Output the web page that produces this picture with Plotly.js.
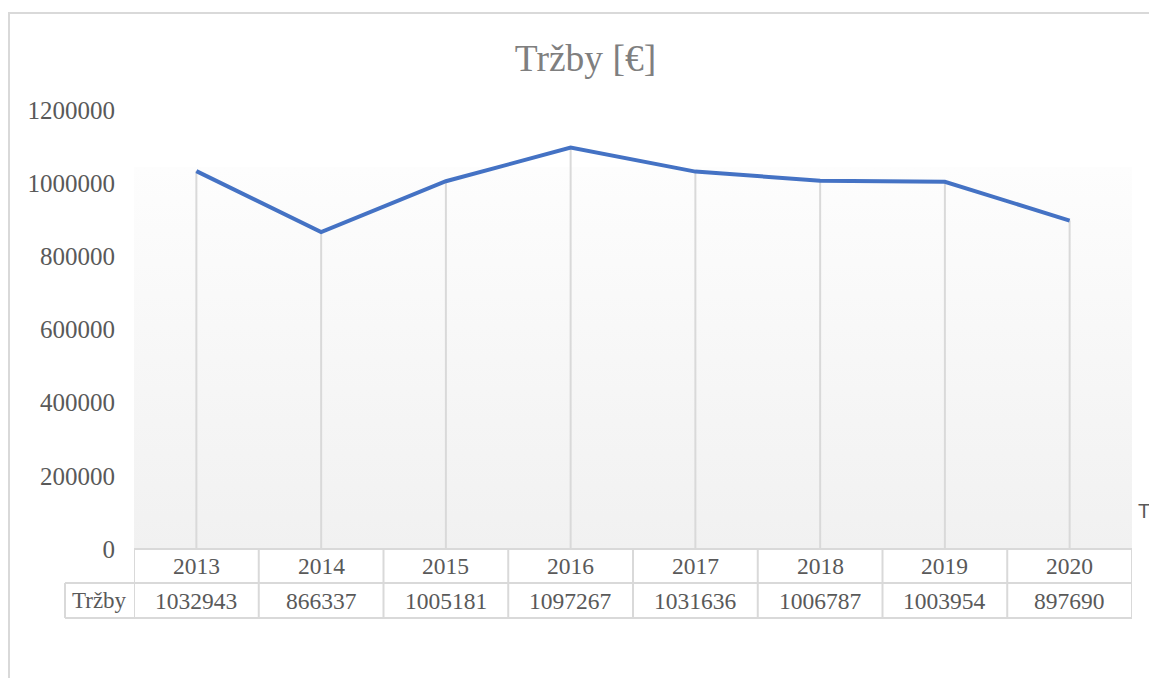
<!DOCTYPE html>
<html>
<head>
<meta charset="utf-8">
<script src="https://cdn.plot.ly/plotly-3.0.1.min.js"></script>
<style>html,body{margin:0;padding:0;background:#fff;}#chart{width:1149px;height:678px;}</style>
</head>
<body>
<div id="chart"></div>
<script>
const years = ["2013","2014","2015","2016","2017","2018","2019","2020"];
const trzby = [1032943, 866337, 1005181, 1097267, 1031636, 1006787, 1003954, 897690];
const seriesName = "Tržby";
const chartTitle = "Tržby [€]";

// layout geometry (pixels)
const W = 1149, H = 678;
const L = 134, R = 1132, T = 110, B = 549;
const pw = R - L, ph = B - T;
const px = v => (v - L) / pw;          // pixel x -> paper
const py = v => (B - v) / ph;          // pixel y -> paper

const serif = "Liberation Serif, Times New Roman, serif";
const textCol = "#595959";
const gridCol = "#d9d9d9";

const gradSvg = '<svg xmlns="http://www.w3.org/2000/svg" width="100" height="100" preserveAspectRatio="none"><defs><linearGradient id="g" x1="0" y1="0" x2="0" y2="1"><stop offset="0" stop-color="#fdfdfd"/><stop offset="1" stop-color="#f1f1f1"/></linearGradient></defs><rect width="100" height="100" fill="url(#g)"/></svg>';
const gradUri = "data:image/svg+xml;base64," + btoa(gradSvg);

const traces = [{
  type: "scatter",
  mode: "lines",
  x: years,
  y: trzby,
  name: seriesName,
  line: {color: "#4472C4", width: 4},
  error_y: {type: "data", symmetric: false, array: trzby.map(() => 0), arrayminus: trzby, color: gridCol, thickness: 2, width: 0},
  hoverinfo: "x+y",
  showlegend: false
}];

const shapes = [];
const annotations = [];
// outer chart border
shapes.push({type: "rect", xref: "paper", yref: "paper", x0: px(9), x1: px(1200), y0: py(13), y1: py(720), line: {color: gridCol, width: 2}, fillcolor: "rgba(0,0,0,0)", layer: "below"});

// data table lines
const rowTop = 549, rowMid = 583, rowBot = 618, hdrLeft = 65;
shapes.push({type: "line", xref: "x", yref: "paper", x0: -0.5, x1: years.length - 0.5, y0: py(rowTop), y1: py(rowTop), line: {color: gridCol, width: 2}});
shapes.push({type: "line", xref: "paper", yref: "paper", x0: px(hdrLeft), x1: 1, y0: py(rowMid), y1: py(rowMid), line: {color: gridCol, width: 2}});
shapes.push({type: "line", xref: "paper", yref: "paper", x0: px(hdrLeft), x1: 1, y0: py(rowBot), y1: py(rowBot), line: {color: gridCol, width: 2}});
shapes.push({type: "line", xref: "paper", yref: "paper", x0: px(hdrLeft), x1: px(hdrLeft), y0: py(rowMid), y1: py(rowBot), line: {color: gridCol, width: 2}});
for (let i = 0; i <= years.length; i++) {
  shapes.push({type: "line", xref: "x", yref: "paper", x0: i - 0.5, x1: i - 0.5, y0: py(rowTop), y1: py(rowBot), line: {color: gridCol, width: 2}});
}
years.forEach((yr, i) => {
  annotations.push({xref: "x", yref: "paper", x: i, y: py((rowTop + rowMid) / 2), text: yr, showarrow: false, xanchor: "center", yanchor: "middle", font: {family: serif, size: 23.5, color: textCol}});
  annotations.push({xref: "x", yref: "paper", x: i, y: py((rowMid + rowBot) / 2), text: String(trzby[i]), showarrow: false, xanchor: "center", yanchor: "middle", font: {family: serif, size: 23.5, color: textCol}});
});
annotations.push({xref: "paper", yref: "paper", x: px((hdrLeft + L) / 2), y: py((rowMid + rowBot) / 2), text: seriesName, showarrow: false, xanchor: "center", yanchor: "middle", font: {family: serif, size: 23, color: textCol}});
// legend, cut off by the right edge as in the reference
annotations.push({xref: "paper", yref: "paper", x: px(1136), y: py(511), text: seriesName, showarrow: false, xanchor: "left", yanchor: "middle", font: {family: "Liberation Sans, Arial, sans-serif", size: 20, color: textCol}});

const layout = {
  width: W, height: H,
  margin: {l: L, r: W - R, t: T, b: H - B, pad: 0},
  paper_bgcolor: "#ffffff",
  plot_bgcolor: "rgba(0,0,0,0)",
  showlegend: false,
  title: {text: chartTitle, x: 585.5 / W, xref: "container", xanchor: "center", y: 1 - 58 / H, yref: "container", yanchor: "middle", font: {family: serif, size: 37.5, color: "#7f7f7f"}},
  xaxis: {type: "category", range: [-0.5, years.length - 0.5], showgrid: false, zeroline: false, showticklabels: false, ticks: "", showline: false, fixedrange: true},
  yaxis: {range: [0, 1200000], dtick: 200000, tick0: 0, tickformat: "d", showgrid: false, zeroline: false, showline: false, ticks: "", ticklabelstandoff: 18, tickfont: {family: serif, size: 25, color: textCol}, fixedrange: true},
  images: [{source: gradUri, xref: "paper", yref: "paper", x: 0, y: py(167), sizex: 1, sizey: py(167), sizing: "stretch", xanchor: "left", yanchor: "top", layer: "below"}],
  shapes: shapes,
  annotations: annotations
};

Plotly.newPlot("chart", traces, layout, {displayModeBar: false, staticPlot: true});
</script>
</body>
</html>
